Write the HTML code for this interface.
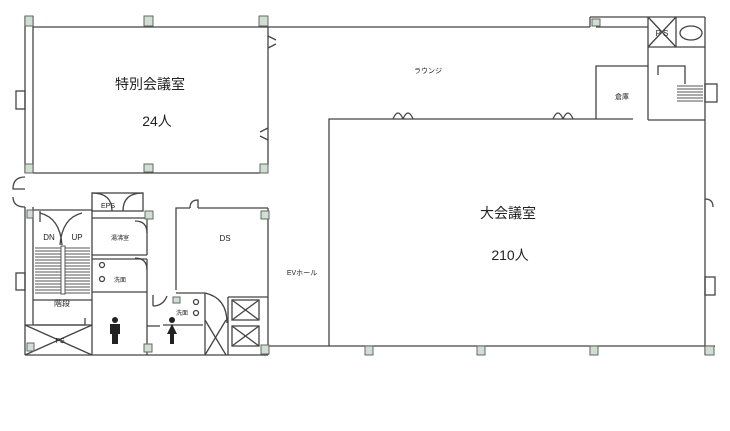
<!DOCTYPE html>
<html><head><meta charset="utf-8"><style>
html,body{margin:0;padding:0;background:#fff;width:730px;height:431px;overflow:hidden}
text{font-family:"Liberation Sans","Noto Sans CJK JP",sans-serif;fill:#222}
</style></head><body>
<svg width="730" height="431" viewBox="0 0 730 431" xmlns="http://www.w3.org/2000/svg">
<g stroke="#444" stroke-width="1.3" fill="none">
<!-- left outer double wall -->
<line x1="25" y1="16" x2="25" y2="173"/><line x1="33" y1="16" x2="33" y2="173"/>
<line x1="25" y1="207" x2="25" y2="355"/><line x1="33" y1="207" x2="33" y2="325"/>
<rect x="16" y="91" width="9" height="18"/><rect x="16" y="273" width="9" height="17"/>
<!-- top wall -->
<line x1="33" y1="27" x2="268" y2="27"/><line x1="268" y1="27" x2="590" y2="27"/>
<line x1="590" y1="17" x2="590" y2="27"/><line x1="590" y1="17" x2="705" y2="17"/>
<line x1="596" y1="27" x2="648" y2="27"/>
<!-- special room -->
<line x1="33" y1="173" x2="260" y2="173"/><line x1="268" y1="27" x2="268" y2="165"/>
<path d="M268,36 l8,4 M268,48 l8,-4 M268,128 l-8,4 M268,140 l-8,-4"/>
<!-- great hall -->
<polyline points="329,346 329,119 633,119"/>
<path d="M393,119 q5,-12 10,0 M403,119 q5,-12 10,0 M553,119 q5,-12 10,0 M563,119 q5,-12 10,0"/>
<!-- storage -->
<polyline points="596,119 596,66 648,66 648,120"/>
<line x1="648" y1="120" x2="705" y2="120"/>
<!-- PS / oval -->
<line x1="648" y1="17" x2="648" y2="66"/><line x1="676" y1="17" x2="676" y2="47"/>
<line x1="648" y1="47" x2="705" y2="47"/>
<line x1="648" y1="17" x2="676" y2="47"/><line x1="676" y1="17" x2="648" y2="47"/>
<ellipse cx="691" cy="33" rx="11" ry="7"/>
<!-- right stair -->
<polyline points="658,75 658,66 685,66 685,84"/>
<rect x="705" y="84" width="12" height="18"/>
<!-- right wall -->
<line x1="705" y1="17" x2="705" y2="355"/>
<path d="M705,199 q8,0 8,8"/><rect x="705" y="277" width="10" height="18"/>
<!-- bottom wall -->
<line x1="265" y1="346" x2="715" y2="346"/>
<line x1="25" y1="355" x2="268" y2="355"/>
<!-- left door -->
<path d="M25,177 q-12,0 -12,12 l12,0 M25,207 q-12,0 -12,-10"/>
<!-- lower left block -->
<line x1="33" y1="210" x2="92" y2="210"/>
<rect x="92" y="193" width="51" height="18"/>
<path d="M92,193 q20,0 20,18 M143,193 q-20,0 -20,18"/>
<line x1="92" y1="218" x2="152" y2="218"/>
<line x1="92" y1="210" x2="92" y2="355"/>
<line x1="147" y1="218" x2="147" y2="255"/><line x1="92" y1="255" x2="147" y2="255"/>
<path d="M135,221 q12,0 12,12 M135,258 q12,0 12,12"/>
<line x1="92" y1="259" x2="147" y2="259"/><line x1="147" y1="259" x2="147" y2="292"/>
<line x1="92" y1="292" x2="147" y2="292"/><line x1="147" y1="292" x2="147" y2="355"/>
<line x1="147" y1="326" x2="160" y2="326"/>
<path d="M40,213 q20,5 22,32 M82,213 q-20,5 -22,32"/>
<line x1="40" y1="211" x2="40" y2="222"/>
<line x1="33" y1="300" x2="92" y2="300"/>
<line x1="35" y1="325" x2="85" y2="325"/><line x1="85" y1="318" x2="85" y2="325"/>
<line x1="25" y1="325" x2="92" y2="325"/>
<line x1="25" y1="325" x2="92" y2="355"/><line x1="92" y1="325" x2="25" y2="355"/>
<!-- DS -->
<polyline points="176,290 176,208 190,208"/><path d="M190,208 q0,-8 8,-8 l0,8"/>
<line x1="198" y1="208" x2="268" y2="208"/><line x1="268" y1="208" x2="268" y2="355"/>
<line x1="176" y1="293" x2="205" y2="293"/>
<line x1="153" y1="295" x2="153" y2="306"/><path d="M153,306 q10,0 14,-10"/>
<line x1="163" y1="325" x2="203" y2="325"/>
<line x1="205" y1="293" x2="205" y2="355"/><line x1="228" y1="297" x2="228" y2="355"/>
<path d="M205,293 q22,5 22,30"/>
<line x1="205" y1="320" x2="226" y2="355"/><line x1="226" y1="320" x2="205" y2="355"/>
<line x1="228" y1="297" x2="268" y2="297"/>
<rect x="232" y="300" width="27" height="20"/><rect x="232" y="326" width="27" height="20"/>
<path d="M232,300 L259,320 M259,300 L232,320 M232,326 L259,346 M259,326 L232,346"/>
<circle cx="102" cy="265" r="2.5"/><circle cx="102" cy="279" r="2.5"/>
<circle cx="196" cy="302" r="2.5"/><circle cx="196" cy="313" r="2.5"/>
</g>
<!-- stair treads -->
<g stroke="#555" stroke-width="1">
<path d="M35,248H90M35,251H90M35,254H90M35,257H90M35,260H90M35,263H90M35,266H90M35,269H90M35,272H90M35,275H90M35,278H90M35,281H90M35,284H90M35,287H90M35,290H90M35,293H90"/>
<path d="M677,86H703M677,89H703M677,92H703M677,95H703M677,98H703M677,101H703"/>
</g>
<rect x="61" y="246" width="4" height="48" fill="#fff" stroke="#555"/>
<!-- pillars -->
<g fill="#cfe0d2" stroke="#666" stroke-width="1">
<rect x="25" y="16" width="8" height="10"/><rect x="144" y="16" width="9" height="10"/><rect x="259" y="16" width="9" height="10"/>
<rect x="25" y="164" width="8" height="9"/><rect x="144" y="164" width="9" height="8"/><rect x="260" y="164" width="8" height="9"/>
<rect x="592" y="19" width="8" height="7"/>
<rect x="27" y="210" width="6" height="8"/><rect x="145" y="211" width="8" height="8"/><rect x="261" y="211" width="8" height="8"/>
<rect x="173" y="297" width="7" height="6"/><rect x="27" y="343" width="7" height="8"/><rect x="144" y="344" width="8" height="8"/>
<rect x="261" y="345" width="8" height="9"/><rect x="365" y="346" width="8" height="9"/><rect x="477" y="346" width="8" height="9"/>
<rect x="590" y="346" width="8" height="9"/><rect x="705" y="346" width="9" height="9"/>
</g>
<!-- toilet icons -->
<g fill="#222">
<circle cx="115" cy="320" r="3"/><rect x="110" y="324" width="10" height="10"/><rect x="112" y="333" width="6" height="11"/>
<circle cx="172" cy="320" r="3"/><polygon points="167,334 172,324 177,334"/><rect x="170" y="333" width="4" height="11"/>
</g>
<text x="150" y="89" font-size="14" text-anchor="middle">特別会議室</text>
<text x="157" y="126" font-size="14" text-anchor="middle">24人</text>
<text x="428" y="73" font-size="7" text-anchor="middle">ラウンジ</text>
<text x="508" y="218" font-size="14" text-anchor="middle">大会議室</text>
<text x="510" y="260" font-size="14" text-anchor="middle">210人</text>
<text x="302" y="275" font-size="7" text-anchor="middle">EVホール</text>
<text x="622" y="99" font-size="7" text-anchor="middle">倉庫</text>
<text x="225" y="241" font-size="8" text-anchor="middle">DS</text>
<text x="108" y="208" font-size="7" text-anchor="middle">EPS</text>
<text x="120" y="240" font-size="6" text-anchor="middle">湯沸室</text>
<text x="120" y="282" font-size="6" text-anchor="middle">洗面</text>
<text x="182" y="315" font-size="6" text-anchor="middle">洗面</text>
<text x="49" y="240" font-size="8" text-anchor="middle">DN</text>
<text x="77" y="240" font-size="8" text-anchor="middle">UP</text>
<text x="62" y="306" font-size="8" text-anchor="middle">階段</text>
<text x="60" y="343" font-size="7" text-anchor="middle">PS</text>
<text x="662" y="36" font-size="8" text-anchor="middle">P S</text>
</svg>
</body></html>
